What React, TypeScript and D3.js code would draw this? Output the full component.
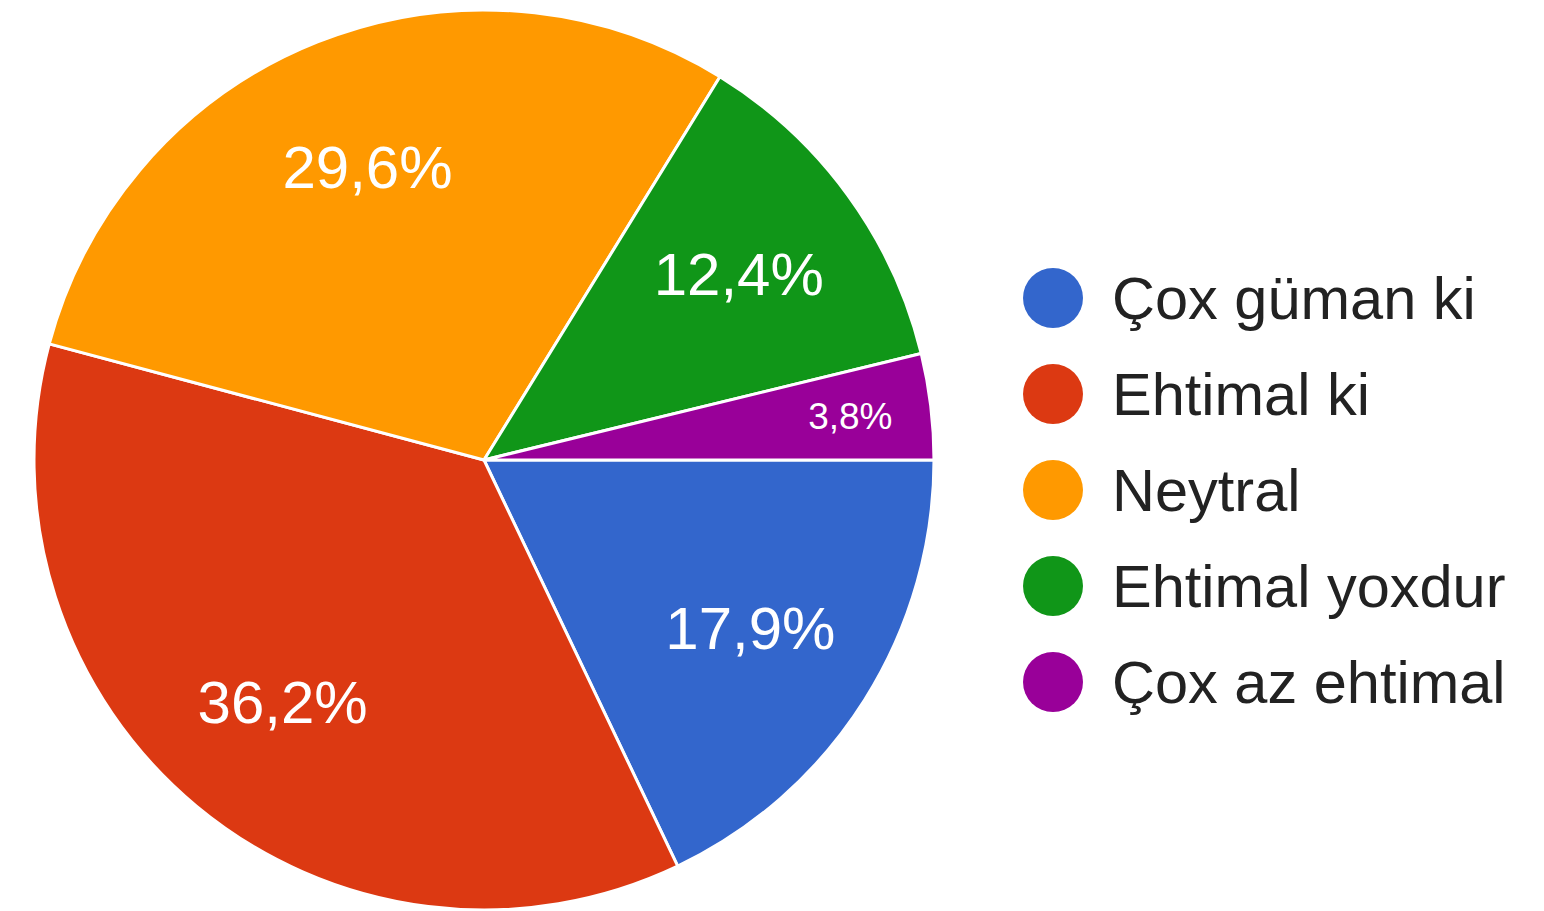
import React from "react";
import * as d3 from "d3";

const categories = ["Çox güman ki", "Ehtimal ki", "Neytral", "Ehtimal yoxdur", "Çox az ehtimal"];
const values = [17.9, 36.2, 29.6, 12.4, 3.8];
const labels = ["17,9%", "36,2%", "29,6%", "12,4%", "3,8%"];
const colors = ["#3366cc", "#dc3912", "#ff9900", "#109618", "#990099"];

const W = 1544;
const H = 911;
const CX = 484;
const CY = 460;
const R = 450;

export default function App() {
  const data = categories.map((c, i) => ({ c, v: values[i], label: labels[i], color: colors[i] }));
  const pie = d3
    .pie<any>()
    .value((d) => d.v)
    .sort(null)
    .startAngle(Math.PI / 2)
    .endAngle(Math.PI / 2 + 2 * Math.PI);
  const arcs = pie(data);
  const arc = d3.arc<any>().innerRadius(0).outerRadius(R);

  const legendY = d3.scalePoint<number>().domain(d3.range(categories.length)).range([298, 682]);

  return (
    <svg width={W} height={H} style={{ position: "absolute", left: 0, top: 0, background: "#fff" }}>
      <g transform={`translate(${CX},${CY})`}>
        {arcs.map((a, i) => (
          <path key={i} d={arc(a) || ""} fill={a.data.color} stroke="#fff" strokeWidth={3} strokeLinejoin="round" />
        ))}
        {arcs.map((a, i) => {
          const small = a.data.v < 5;
          const lr = small ? R * 0.82 : R * 0.7;
          const [x, y] = d3.arc<any>().innerRadius(lr).outerRadius(lr).centroid(a);
          return (
            <text
              key={"l" + i}
              x={x}
              y={y}
              fill="#fff"
              fontFamily="'Liberation Sans', Arial, sans-serif"
              fontSize={small ? 37 : 60}
              textAnchor="middle"
              dominantBaseline="central"
            >
              {a.data.label}
            </text>
          );
        })}
      </g>
      {data.map((d, i) => (
        <g key={"g" + i} transform={`translate(0,${legendY(i)})`}>
          <circle cx={1053} cy={0} r={30} fill={d.color} />
          <text
            x={1112}
            y={0}
            dy="0.36em"
            fill="#222"
            fontFamily="'Liberation Sans', Arial, sans-serif"
            fontSize={59.5}
          >
            {d.c}
          </text>
        </g>
      ))}
    </svg>
  );
}
